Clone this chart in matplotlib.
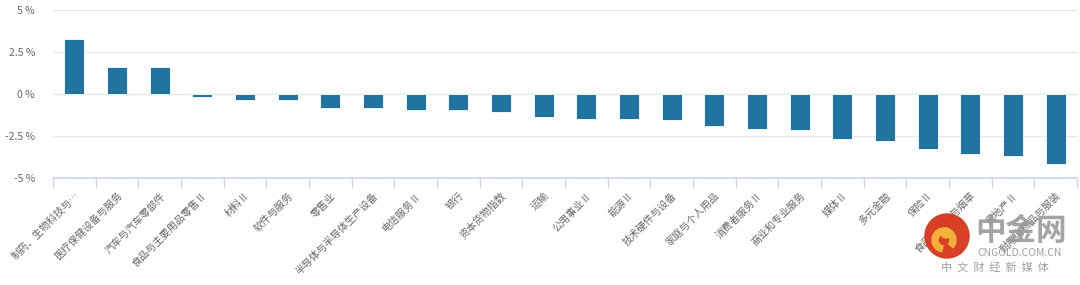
import matplotlib
matplotlib.use("Agg")
import matplotlib.pyplot as plt
from matplotlib.patches import Circle, Wedge

plt.rcParams['font.family'] = ['Noto Sans CJK SC', 'DejaVu Sans']

categories = ["制药、生物科技与…", "医疗保健设备与服务", "汽车与汽车零部件", "食品与主要用品零售Ⅱ",
              "材料Ⅱ", "软件与服务", "零售业", "半导体与半导体生产设备", "电信服务Ⅱ", "银行",
              "资本货物指数", "运输", "公用事业Ⅱ", "能源Ⅱ", "技术硬件与设备", "家庭与个人用品",
              "消费者服务Ⅱ", "商业和专业服务", "媒体Ⅱ", "多元金融", "保险Ⅱ", "食品、饮料与烟草",
              "房地产Ⅱ", "耐用消费品与服装"]
values = [3.27, 1.63, 1.63, -0.16, -0.34, -0.34, -0.83, -0.82, -0.94, -0.94,
          -1.06, -1.38, -1.50, -1.50, -1.56, -1.90, -2.06, -2.12, -2.68, -2.80,
          -3.26, -3.58, -3.70, -4.16]
yticks = [-5, -2.5, 0, 2.5, 5]
ytick_labels = ["-5 %", "-2.5 %", "0 %", "2.5 %", "5 %"]

W, H = 1080, 285
fig = plt.figure(figsize=(W/100, H/100), dpi=100)
ax = fig.add_axes([53/W, 1-178/H, (1077-53)/W, 168/H])

x = list(range(len(categories)))
ax.bar(x, values, width=0.47, color="#2274a0", edgecolor="#ffffff", linewidth=0.6, zorder=3)
ax.set_xlim(-0.5, len(categories)-0.5)
ax.set_ylim(-5, 5)
ax.set_yticks(yticks)
ax.set_yticklabels(ytick_labels, fontsize=7.5, color="#666666")
ax.grid(axis="y", color="#e6e6e6", linewidth=1, zorder=0)
ax.tick_params(axis="y", length=0, pad=13)

for s in ["top", "right", "left"]:
    ax.spines[s].set_visible(False)
ax.spines["bottom"].set_color("#ccd6eb")
ax.spines["bottom"].set_linewidth(1.2)
ax.spines["bottom"].set_position(("data", -5))

# tick marks at category boundaries
ax.set_xticks([i - 0.5 for i in range(len(categories)+1)], minor=True)
ax.tick_params(axis="x", which="minor", length=7, color="#ccd6eb", width=1)
ax.set_xticks(x)
ax.set_xticklabels(categories, rotation=45, ha="right", va="top", rotation_mode="anchor",
                   fontsize=7.3, color="#666666")
ax.tick_params(axis="x", which="major", length=0, pad=9)

# watermark
ax_logo = fig.add_axes([0, 0, 1, 1], facecolor="none")
ax_logo.set_xlim(0, W)
ax_logo.set_ylim(H, 0)
ax_logo.axis("off")
ax_logo.add_patch(Circle((947, 236), 22, color="#d8361c", alpha=0.95))
ax_logo.add_patch(Wedge((944, 240), 12, 100, 400, width=6, color="#f4b53a", alpha=0.95))
ax_logo.add_patch(Circle((946, 233), 5, color="#f4b53a", alpha=0.95))
ax_logo.text(1021, 231, "中金网", fontsize=22, color="#9a9a9a", ha="center", va="center",
             fontweight="bold", alpha=0.9)
ax_logo.text(1020, 253, "CNGOLD.COM.CN", fontsize=7.5, color="#a0a0a0", ha="center", va="center")
ax_logo.text(995, 267, "中  文  财  经  新  媒  体", fontsize=8, color="#a0a0a0", ha="center", va="center")

fig.savefig("out.png", dpi=100)
